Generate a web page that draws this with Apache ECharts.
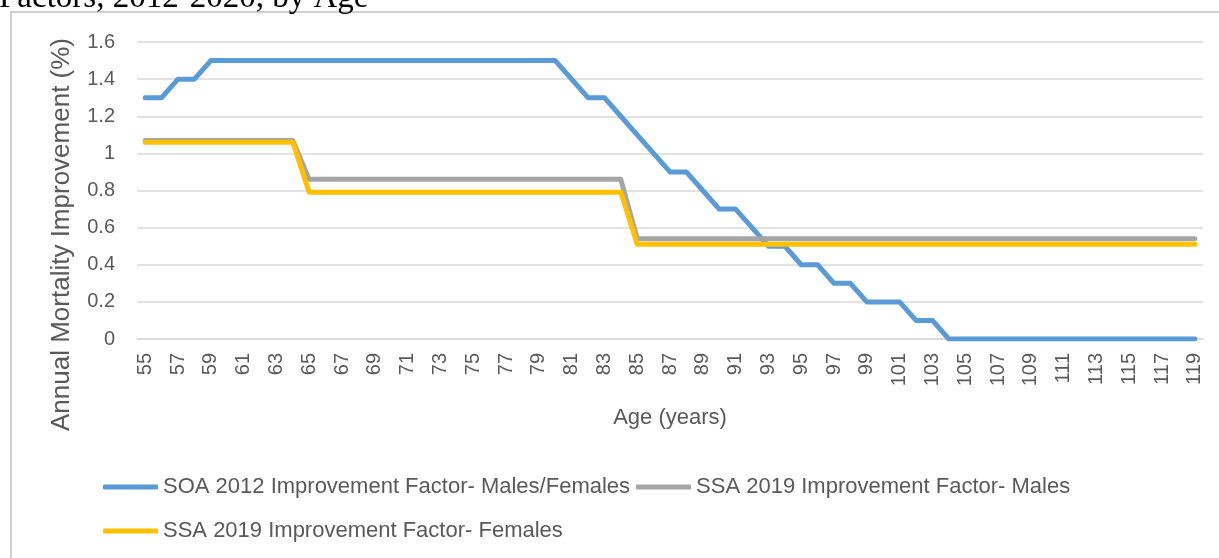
<!DOCTYPE html>
<html>
<head>
<meta charset="utf-8">
<script src="https://cdn.jsdelivr.net/npm/echarts@6/dist/echarts.min.js"></script>
<style>
  html, body { margin: 0; padding: 0; background: #fff; }
  #chart { width: 1219px; height: 558px; }
</style>
</head>
<body>
<div id="chart"></div>
<script>
var titleText = 'Factors, 2012-2020, by Age';
var yAxisName = 'Annual Mortality Improvement (%)';
var xAxisName = 'Age (years)';

var ages = ['55','56','57','58','59','60','61','62','63','64','65','66','67','68','69','70','71','72','73','74','75','76','77','78','79','80','81','82','83','84','85','86','87','88','89','90','91','92','93','94','95','96','97','98','99','100','101','102','103','104','105','106','107','108','109','110','111','112','113','114','115','116','117','118','119'];

var seriesNames = ['SOA 2012 Improvement Factor- Males/Females', 'SSA 2019 Improvement Factor- Males', 'SSA 2019 Improvement Factor- Females'];

var soa2012 = [1.3,1.3,1.4,1.4,1.5,1.5,1.5,1.5,1.5,1.5,1.5,1.5,1.5,1.5,1.5,1.5,1.5,1.5,1.5,1.5,1.5,1.5,1.5,1.5,1.5,1.5,
  1.4,1.3,1.3,1.2,1.1,1.0,0.9,0.9,0.8,0.7,0.7,0.6,0.5,0.5,0.4,0.4,0.3,0.3,0.2,0.2,0.2,0.1,0.1,
  0,0,0,0,0,0,0,0,0,0,0,0,0,0,0,0];

var ssaMales = [1.07,1.07,1.07,1.07,1.07,1.07,1.07,1.07,1.07,1.07,
  0.86,0.86,0.86,0.86,0.86,0.86,0.86,0.86,0.86,0.86,0.86,0.86,0.86,0.86,0.86,0.86,0.86,0.86,0.86,0.86,
  0.54,0.54,0.54,0.54,0.54,0.54,0.54,0.54,0.54,0.54,0.54,0.54,0.54,0.54,0.54,0.54,0.54,0.54,0.54,0.54,0.54,0.54,0.54,0.54,0.54,0.54,0.54,0.54,0.54,0.54,0.54,0.54,0.54,0.54,0.54];

var ssaFemales = [1.06,1.06,1.06,1.06,1.06,1.06,1.06,1.06,1.06,1.06,
  0.79,0.79,0.79,0.79,0.79,0.79,0.79,0.79,0.79,0.79,0.79,0.79,0.79,0.79,0.79,0.79,0.79,0.79,0.79,0.79,
  0.51,0.51,0.51,0.51,0.51,0.51,0.51,0.51,0.51,0.51,0.51,0.51,0.51,0.51,0.51,0.51,0.51,0.51,0.51,0.51,0.51,0.51,0.51,0.51,0.51,0.51,0.51,0.51,0.51,0.51,0.51,0.51,0.51,0.51,0.51];

var colors = ['#5b9bd5', '#a5a5a5', '#ffc000'];
var font = '"Liberation Sans", Arial, sans-serif';

var chart = echarts.init(document.getElementById('chart'), null, { renderer: 'canvas' });

function lineSeries(name, data, color) {
  return {
    name: name,
    type: 'line',
    data: data,
    symbol: 'none',
    showSymbol: false,
    color: color,
    lineStyle: { color: color, width: 5, cap: 'round', join: 'round' },
    emphasis: { disabled: true },
    animation: false
  };
}

chart.setOption({
  animation: false,
  color: colors,
  title: {
    text: titleText,
    left: -1,
    top: -18,
    padding: 0,
    textStyle: { fontFamily: '"Liberation Serif", "Times New Roman", serif', fontSize: 33, fontWeight: 'normal', color: '#000' }
  },
  graphic: [{
    type: 'rect',
    silent: true,
    z: -10,
    shape: { x: 11, y: 12, width: 1400, height: 800 },
    style: { fill: 'none', stroke: '#bfbfbf', lineWidth: 1.5 }
  }],
  grid: { left: 137, right: 16, top: 42, bottom: 219, containLabel: false },
  legend: {
    left: 103,
    top: 468,
    width: 1010,
    orient: 'horizontal',
    icon: 'roundRect',
    itemWidth: 55,
    itemHeight: 5,
    itemGap: 6,
    padding: 0,
    itemStyle: { borderWidth: 0 },
    textStyle: { fontFamily: font, fontSize: 22, color: '#595959', lineHeight: 38 },
    data: seriesNames
  },
  xAxis: {
    type: 'category',
    data: ages,
    boundaryGap: true,
    name: xAxisName,
    nameLocation: 'middle',
    nameGap: 68,
    nameTextStyle: { fontFamily: font, fontSize: 22, color: '#595959' },
    axisLine: { show: true, lineStyle: { color: '#d9d9d9', width: 1.5 } },
    axisTick: { show: false },
    splitLine: { show: false },
    axisLabel: { rotate: 90, interval: 1, margin: 14, fontFamily: font, fontSize: 20, color: '#595959' }
  },
  yAxis: {
    type: 'value',
    min: 0,
    max: 1.6,
    interval: 0.2,
    name: yAxisName,
    nameLocation: 'middle',
    nameGap: 62,
    nameTextStyle: { fontFamily: font, fontSize: 26, color: '#595959', padding: [0, 88, 0, 0] },
    axisLine: { show: false },
    axisTick: { show: false },
    splitLine: { show: true, lineStyle: { color: '#d9d9d9', width: 1.5 } },
    axisLabel: { margin: 22, fontFamily: font, fontSize: 20, color: '#595959' }
  },
  series: [
    lineSeries(seriesNames[0], soa2012, colors[0]),
    lineSeries(seriesNames[1], ssaMales, colors[1]),
    lineSeries(seriesNames[2], ssaFemales, colors[2])
  ]
});
</script>
</body>
</html>
